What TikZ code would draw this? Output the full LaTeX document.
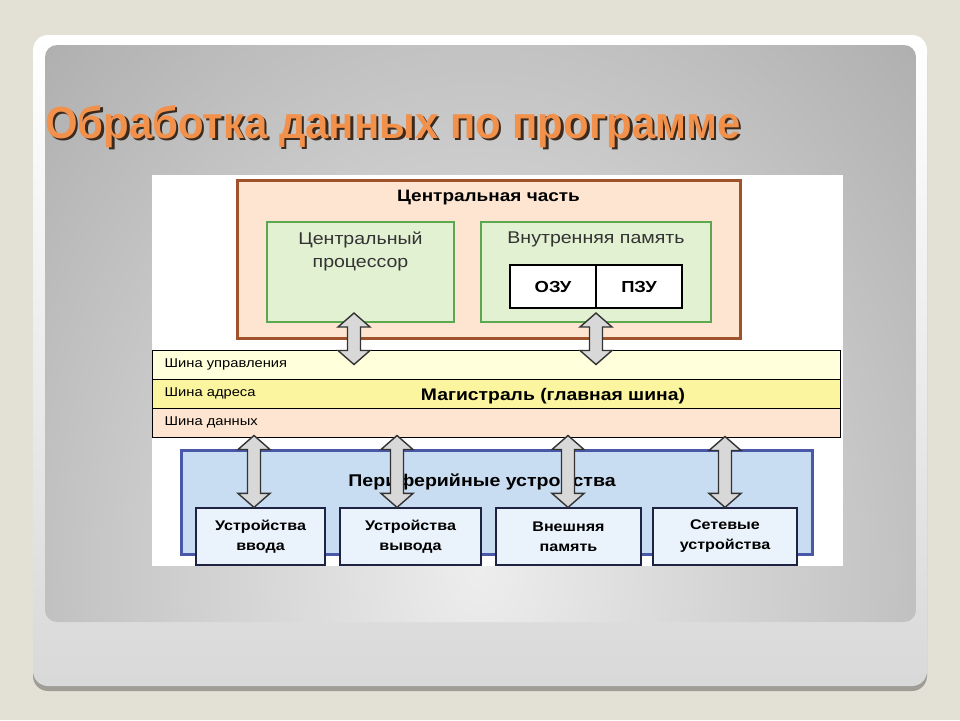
\documentclass[tikz,border=0pt]{standalone}
\usepackage{fontspec}
\setmainfont{Liberation Sans}
\newfontfamily\diagfont[FakeStretch=1.15]{Liberation Sans}
\newfontfamily\titlefont[FakeStretch=0.93]{Liberation Sans}
\newcommand\shadowtext[1]{\makebox[0pt][l]{\hspace{2.5pt}\raisebox{-2.5pt}{\color{titleshadow}#1}}#1}
\usetikzlibrary{calc}

\begin{document}
\begin{tikzpicture}[x=1pt, y=-1pt,
  every node/.style={inner sep=0pt, font=\diagfont},
  lbl/.style 2 args={font=\diagfont\fontsize{#1}{#2}\selectfont},
  blbl/.style 2 args={font=\diagfont\bfseries\fontsize{#1}{#2}\selectfont},
  titletext/.style={anchor=base west, font=\titlefont\bfseries\fontsize{45}{45}\selectfont, text=#1},
  greenbox/.style={draw=greenbrd, line width=2pt, fill=greenfill, minimum width=#1, minimum height=100},
  membox/.style={draw=black, line width=1.2pt, fill=white, minimum width=86, minimum height=43,
    font=\diagfont\bfseries\fontsize{16}{16}\selectfont},
  busrow/.style={draw=black, line width=1pt, fill=#1, minimum width=688, minimum height=29},
  devbox/.style={draw=black!60!bluebrd, line width=1.2pt, fill=devfill, minimum width=#1,
    minimum height=57, align=center, font=\diagfont\bfseries\fontsize{14}{20}\selectfont},
  dblarrow/.style={draw=black!80, line width=1.4pt, fill=arrowgray,
    to path={let \p1=(\tikztostart), \p2=(\tikztotarget) in
      (\x1,\y1) -- (\x1+16pt,\y1-14pt) -- (\x1+6.5pt,\y1-14pt) -- (\x1+6.5pt,\y2+14pt)
      -- (\x1+16pt,\y2+14pt) -- (\x1,\y2) -- (\x1-16pt,\y2+14pt) -- (\x1-6.5pt,\y2+14pt)
      -- (\x1-6.5pt,\y1-14pt) -- (\x1-16pt,\y1-14pt) -- cycle}}]
  % Define colors
  \definecolor{beige}{HTML}{E3E0D6}
  \definecolor{titleorange}{HTML}{F2914C}
  \definecolor{titleshadow}{HTML}{3B2A1E}
  \definecolor{centralbrd}{HTML}{A0522D}
  \definecolor{peach}{HTML}{FDE5D1}
  \definecolor{greenbrd}{HTML}{5DA84E}
  \definecolor{greenfill}{HTML}{E3F1D3}
  \definecolor{buslight}{HTML}{FFFFDC}
  \definecolor{busyellow}{HTML}{FAF59E}
  \definecolor{bluebrd}{HTML}{4A58A8}
  \definecolor{bluefill}{HTML}{C8DCF2}
  \definecolor{devfill}{HTML}{EAF2FB}
  \definecolor{arrowgray}{HTML}{D8D8D8}

  \useasboundingbox (0,0) rectangle (960,720);

  % Slide frame
  \fill[beige] (0,0) rectangle (960,720);
  \fill[black!30!beige, rounded corners=15pt] (33,40) rectangle (927,691);
  \shade[top color=white, bottom color=black!15, rounded corners=15pt] (33,35) rectangle (927,686);
  \begin{scope}
    \clip[rounded corners=12pt] (45,45) rectangle (916,622);
    \shade[inner color=black!7, outer color=black!35] (480,570) ellipse (700 and 875);
  \end{scope}

  % Title
  \node[titletext=titleorange] (title) at (45,138) {\shadowtext{Обработка данных по программе}};

  % Diagram sheet
  \fill[white] (152,175) rectangle (843,566);
  \begin{scope}
  \clip (152,175) rectangle (843,566);

  % Central part
  \node[draw=centralbrd, line width=3pt, fill=peach, minimum width=503, minimum height=158] (central) at (488.5,259) {};
  \node[blbl={16.5}{16.5}] (centraltitle) at ($(central.north)+(0,19)$) {Центральная часть};
  \node[greenbox=187] (cpu) at (360.5,272) {};
  \node[greenbox=230] (intmem) at (596,272) {};
  \node[lbl={17}{23}, align=center, text=black!80, anchor=north] (cputext) at ($(cpu.north)+(0,11)$) {Центральный\\процессор};
  \node[lbl={17}{17}, text=black!80] (memtext) at ($(intmem.north)+(0,18)$) {Внутренняя память};
  \node[membox] (ozu) at (553,286.5) {ОЗУ};
  \node[membox] (pzu) at (639,286.5) {ПЗУ};

  % Main bus
  \node[busrow=buslight] (ctrl) at (496,364.5) {};
  \node[busrow=busyellow] (addr) at (496,393.5) {};
  \node[busrow=peach] (data) at (496,422.5) {};
  \node[lbl={12.8}{12.8}, anchor=west] at ($(ctrl.west)+(13,0)$) {Шина управления};
  \node[lbl={12.8}{12.8}, anchor=west] at ($(addr.west)+(13,0)$) {Шина адреса};
  \node[lbl={12.8}{12.8}, anchor=west] at ($(data.west)+(13,0)$) {Шина данных};
  \node[blbl={16.8}{16.8}] (busname) at ($(addr.center)+(57,2.5)$) {Магистраль (главная шина)};

  % Peripheral devices
  \node[draw=bluebrd, line width=3pt, fill=bluefill, minimum width=631, minimum height=104] (periph) at (496.5,502) {};
  \node[blbl={17}{17}] (periphtitle) at (482,482) {Периферийные устройства};
  \node[devbox=129] (dev1) at (260.5,536.5) {Устройства\\ввода};
  \node[devbox=141] (dev2) at (410.5,536.5) {Устройства\\вывода};
  \node[devbox=145] (dev3) at (568.5,536.5) {Внешняя\\память};
  \node[devbox=144] (dev4) at (725,536.5) {Сетевые\\устройства};

  % Arrows to the bus
  \draw[dblarrow] ($(cpu.south)+(-6.5,-10)$) to ($(ctrl.north)+(0,15)$);
  \draw[dblarrow] ($(intmem.south)+(0,-10)$) to ($(ctrl.north)+(0,15)$);
  \draw[dblarrow] ($(data.south -| dev1.north)+(-6.5,-2)$) to (dev1.north);
  \draw[dblarrow] ($(data.south -| dev2.north)+(-13.5,-2)$) to (dev2.north);
  \draw[dblarrow] ($(data.south -| dev3.north)+(-0.5,-2)$) to (dev3.north);
  \draw[dblarrow] ($(data.south -| dev4.north)+(0,-1)$) to (dev4.north);
  \end{scope}
\end{tikzpicture}
\end{document}
